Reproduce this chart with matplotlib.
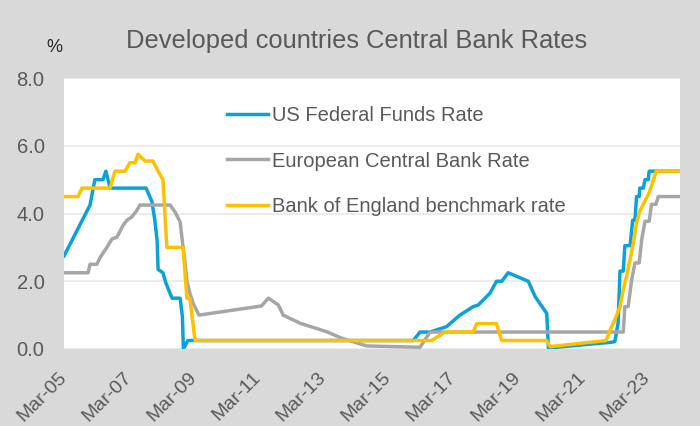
import matplotlib
matplotlib.use("Agg")
import matplotlib.pyplot as plt

# Decimal-year positions and rates (%)
fed_x = [2005.17, 2005.97, 2006.12, 2006.37, 2006.46, 2006.59, 2007.70, 2007.88,
         2007.97, 2008.04, 2008.07, 2008.22, 2008.31, 2008.50, 2008.75, 2008.82,
         2008.85, 2008.99, 2015.94, 2016.15, 2016.46, 2016.97, 2017.38, 2017.79,
         2017.95, 2018.31, 2018.51, 2018.67, 2018.87, 2019.49, 2019.70, 2020.06,
         2020.11, 2022.07, 2022.16, 2022.26, 2022.32, 2022.42, 2022.47, 2022.63,
         2022.71, 2022.78, 2022.83, 2022.91, 2022.93, 2023.04, 2023.09, 2023.19,
         2023.22, 2024.17]
fed_y = [2.75, 4.25, 5.0, 5.0, 5.25, 4.75, 4.75, 4.35,
         3.8, 3.2, 2.35, 2.25, 1.95, 1.5, 1.5, 0.95,
         0.0, 0.25, 0.25, 0.5, 0.5, 0.66, 1.0, 1.25,
         1.3, 1.65, 2.0, 2.0, 2.25, 2.0, 1.55, 1.05,
         0.03, 0.2, 0.22, 0.76, 2.3, 2.3, 3.05, 3.05,
         3.8, 3.8, 4.5, 4.5, 4.75, 4.75, 5.0, 5.0,
         5.25, 5.25]

ecb_x = [2005.17, 2005.91, 2005.97, 2006.18, 2006.28, 2006.49, 2006.65, 2006.80,
         2006.99, 2007.11, 2007.26, 2007.42, 2007.51, 2008.44, 2008.59, 2008.75,
         2008.81, 2008.90, 2008.96, 2009.05, 2009.15, 2009.33, 2011.26, 2011.47,
         2011.78, 2011.93, 2012.45, 2013.27, 2013.73, 2014.50, 2016.15, 2016.46,
         2022.42, 2022.47, 2022.57, 2022.68, 2022.78, 2022.91, 2022.99, 2023.09,
         2023.22, 2023.29, 2023.43, 2023.50, 2024.17]
ecb_y = [2.25, 2.25, 2.5, 2.5, 2.7, 3.0, 3.25, 3.3,
         3.65, 3.8, 3.9, 4.1, 4.25, 4.25, 4.05, 3.75,
         3.25, 2.55, 2.0, 1.65, 1.35, 1.0, 1.27, 1.5,
         1.3, 1.0, 0.76, 0.51, 0.32, 0.09, 0.05, 0.5,
         0.5, 1.25, 1.25, 2.04, 2.54, 2.54, 3.23, 3.77,
         3.77, 4.27, 4.27, 4.5, 4.5]

boe_x = [2005.17, 2005.60, 2005.72, 2006.59, 2006.74, 2007.05, 2007.20, 2007.36,
         2007.45, 2007.67, 2007.91, 2008.07, 2008.22, 2008.34, 2008.84, 2008.96,
         2009.05, 2009.21, 2016.51, 2016.92, 2017.79, 2017.90, 2018.51, 2018.67,
         2020.06, 2020.16, 2021.89, 2022.01, 2022.16, 2022.32, 2022.42, 2022.52,
         2022.63, 2022.73, 2022.83, 2022.93, 2023.09, 2023.19, 2023.29, 2023.44,
         2024.17]
boe_y = [4.5, 4.5, 4.75, 4.75, 5.25, 5.25, 5.5, 5.5,
         5.75, 5.55, 5.55, 5.25, 5.0, 3.0, 3.0, 1.5,
         1.5, 0.25, 0.25, 0.5, 0.5, 0.75, 0.75, 0.25,
         0.25, 0.07, 0.25, 0.55, 0.86, 1.25, 1.75, 2.14,
         2.64, 3.13, 3.72, 4.07, 4.37, 4.56, 4.81, 5.25,
         5.25]

series_names = ["US Federal Funds Rate", "European Central Bank Rate",
                "Bank of England benchmark rate"]
tick_years = [2005, 2007, 2009, 2011, 2013, 2015, 2017, 2019, 2021, 2023]
tick_labels = ["Mar-%02d" % (y % 100) for y in tick_years]
y_ticks = [0, 2, 4, 6, 8]

text_col = "#595959"
bg_col = "#d9d9d9"
plt.rcParams["font.family"] = ["Liberation Sans", "DejaVu Sans"]

fig = plt.figure(figsize=(7, 4.26), dpi=100, facecolor=bg_col)
ax = fig.add_axes([0.0914, 0.1808, 0.88, 0.636])
ax.set_facecolor("white")

ax.plot(fed_x, fed_y, color="#0aa2dc", lw=2.5, label=series_names[0], zorder=3)
ax.plot(ecb_x, ecb_y, color="#a6a6a6", lw=2.5, label=series_names[1], zorder=3)
ax.plot(boe_x, boe_y, color="#ffc000", lw=2.5, label=series_names[2], zorder=4)

ax.set_xlim(2005.167, 2024.17)
ax.set_ylim(0, 8)
ax.set_yticks(y_ticks)
ax.set_yticklabels(["%.1f" % v for v in y_ticks], fontsize=14.5, color=text_col)
ax.set_xticks([y + 2 / 12 for y in tick_years])
ax.set_xticklabels(tick_labels, fontsize=14, color=text_col, rotation=45,
                   ha="right", va="center", rotation_mode="anchor")
ax.tick_params(axis="both", length=0)
ax.tick_params(axis="y", pad=14)
ax.tick_params(axis="x", pad=19)
for s in ax.spines.values():
    s.set_visible(False)
ax.grid(axis="y", color="#ececec", lw=1.5)
ax.set_axisbelow(True)

ax.legend(loc="upper left", bbox_to_anchor=(0.252, 0.926), frameon=False,
          fontsize=14.5, labelcolor=text_col, handlelength=2.0,
          handletextpad=0.2, labelspacing=1.31, borderaxespad=0)

fig.text(0.509, 0.904, "Developed countries Central Bank Rates", ha="center",
         va="center", fontsize=18.4, color=text_col)
fig.text(0.077, 0.888, "%", ha="center", va="center", fontsize=13, color="#262626")

fig.savefig("out.png", dpi=100, facecolor=bg_col)
